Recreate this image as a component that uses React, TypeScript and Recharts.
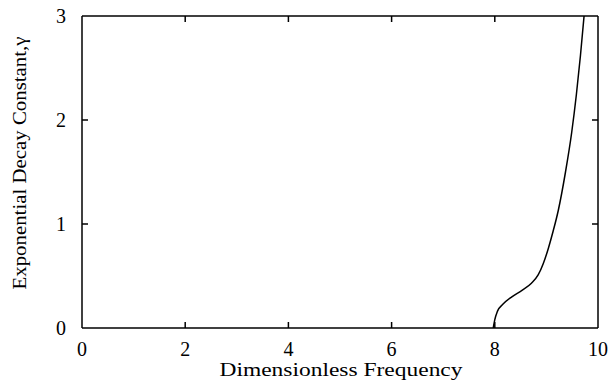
import React from "react";
import { LineChart, Line, XAxis, YAxis, Label } from "recharts";

// Dispersion branch: dimensionless frequency vs exponential decay constant
const frequency = [7.97, 8.0, 8.05, 8.16, 8.33, 8.52, 8.71, 8.84, 8.94, 9.04, 9.13, 9.23, 9.37, 9.49, 9.58, 9.66, 9.73];
const gamma = [0, 0.08, 0.16, 0.23, 0.3, 0.36, 0.43, 0.51, 0.62, 0.77, 0.93, 1.13, 1.5, 1.88, 2.24, 2.62, 3.0];

const xTicks = [0, 2, 4, 6, 8, 10];
const yTicks = [0, 1, 2, 3];
const innerXTicks = [2, 4, 6, 8];
const innerYTicks = [1, 2];

const xLabel = "Dimensionless Frequency";
const yLabel = "Exponential Decay Constant,\u03b3";

const data = frequency.map((f, i) => ({ f, g: gamma[i] }));

const FONT = "'Liberation Serif', 'Times New Roman', serif";
const INK = "#000";
const TICK_LEN = 6;

const BottomTick = (props: any) => {
  const { x, y, payload } = props;
  const v = payload.value;
  const showLine = innerXTicks.includes(v);
  return (
    <g>
      {showLine && <line x1={x} y1={y} x2={x} y2={y - TICK_LEN} stroke={INK} strokeWidth={1.5} />}
      <text x={x} y={y + 28} textAnchor="middle" fontFamily={FONT} fontSize={20} fill={INK}>
        {v}
      </text>
    </g>
  );
};

const LeftTick = (props: any) => {
  const { x, y, payload } = props;
  const v = payload.value;
  const showLine = innerYTicks.includes(v);
  return (
    <g>
      {showLine && <line x1={x} y1={y} x2={x + TICK_LEN} y2={y} stroke={INK} strokeWidth={1.5} />}
      <text x={x - 16} y={y + 7} textAnchor="end" fontFamily={FONT} fontSize={20} fill={INK}>
        {v}
      </text>
    </g>
  );
};

const TopTick = (props: any) => {
  const { x, y, payload } = props;
  if (!innerXTicks.includes(payload.value)) return <g />;
  return <line x1={x} y1={y} x2={x} y2={y + TICK_LEN} stroke={INK} strokeWidth={1.5} />;
};

const RightTick = (props: any) => {
  const { x, y, payload } = props;
  if (!innerYTicks.includes(payload.value)) return <g />;
  return <line x1={x} y1={y} x2={x - TICK_LEN} y2={y} stroke={INK} strokeWidth={1.5} />;
};

const XTitle = (props: any) => {
  const vb = props.viewBox;
  const cx = vb.x + vb.width / 2 + 1;
  return (
    <text
      x={cx}
      y={vb.y + 48}
      textAnchor="middle"
      fontFamily={FONT}
      fontSize={18}
      fill={INK}
      textLength={243}
      lengthAdjust="spacingAndGlyphs"
    >
      {xLabel}
    </text>
  );
};

const YTitle = (props: any) => {
  const vb = props.viewBox;
  const cx = vb.x + 20;
  const cy = vb.y + 147;
  return (
    <text
      x={cx}
      y={cy}
      transform={`rotate(-90, ${cx}, ${cy})`}
      textAnchor="middle"
      dominantBaseline="central"
      fontFamily={FONT}
      fontSize={18}
      fill={INK}
      textLength={253}
      lengthAdjust="spacingAndGlyphs"
    >
      {yLabel}
    </text>
  );
};

export default function App() {
  return (
    <div style={{ position: "fixed", left: 0, top: 0, width: 612, height: 385, background: "#fff" }}>
      <LineChart width={612} height={385} data={data} margin={{ top: 15, right: 13, bottom: 0, left: 0 }}>
        <XAxis
          dataKey="f"
          type="number"
          domain={[0, 10]}
          ticks={xTicks}
          interval={0}
          allowDataOverflow
          height={57}
          tickSize={0}
          tickMargin={0}
          tickLine={false}
          axisLine={{ stroke: INK, strokeWidth: 1.5 }}
          tick={<BottomTick />}
        >
          <Label content={<XTitle />} />
        </XAxis>
        <XAxis
          xAxisId="top"
          dataKey="f"
          orientation="top"
          type="number"
          domain={[0, 10]}
          ticks={xTicks}
          interval={0}
          allowDataOverflow
          height={1}
          tickSize={0}
          tickMargin={0}
          tickLine={false}
          axisLine={{ stroke: INK, strokeWidth: 1.5 }}
          tick={<TopTick />}
        />
        <YAxis
          type="number"
          domain={[0, 3]}
          ticks={yTicks}
          interval={0}
          allowDataOverflow
          width={82}
          tickSize={0}
          tickMargin={0}
          tickLine={false}
          axisLine={{ stroke: INK, strokeWidth: 1.5 }}
          tick={<LeftTick />}
        >
          <Label content={<YTitle />} />
        </YAxis>
        <YAxis
          yAxisId="right"
          orientation="right"
          type="number"
          domain={[0, 3]}
          ticks={yTicks}
          interval={0}
          allowDataOverflow
          width={1}
          tickSize={0}
          tickMargin={0}
          tickLine={false}
          axisLine={{ stroke: INK, strokeWidth: 1.5 }}
          tick={<RightTick />}
        />
        <Line
          dataKey="g"
          type="monotone"
          stroke={INK}
          strokeWidth={1.5}
          dot={false}
          isAnimationActive={false}
        />
        {/* invisible companion series so the mirrored top/right axes are drawn */}
        <Line
          dataKey="g"
          xAxisId="top"
          yAxisId="right"
          type="monotone"
          stroke="none"
          strokeWidth={0}
          dot={false}
          activeDot={false}
          legendType="none"
          isAnimationActive={false}
        />
      </LineChart>
    </div>
  );
}
